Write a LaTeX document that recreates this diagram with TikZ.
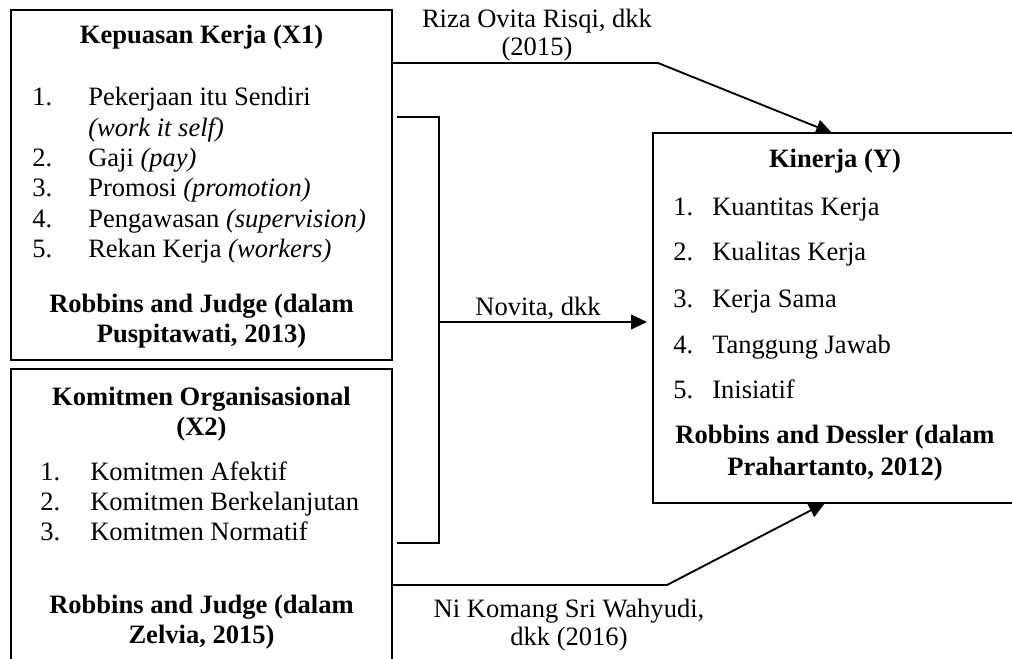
\documentclass[tikz,border=0pt]{standalone}
\usepackage{fontspec}
\setmainfont{Liberation Serif}
\usetikzlibrary{arrows.meta}

\tikzset{
  varbox/.style={draw, line width=1.4pt, inner sep=0pt, outer sep=0pt},
  txt/.style={inner sep=0pt, anchor=base west, font=\fontsize{19.9}{23}\selectfont},
  ctxt/.style={txt, anchor=base},
  head/.style={ctxt, font=\fontsize{19.9}{23}\selectfont\bfseries},
  link/.style={line width=1.4pt},
  arr/.style={link, -{Triangle[length=12pt, width=11pt]}}
}

\begin{document}
\begin{tikzpicture}[x=0.75pt, y=-0.75pt]
\useasboundingbox (0,0) rectangle (1012,659);
\clip (0,0) rectangle (1012,659);

% boxes
\node[varbox, minimum width=285.75pt, minimum height=262.5pt] (x1) at (201.5,185.0) {};
\node[varbox, minimum width=285.75pt, minimum height=248.25pt] (x2) at (201.5,534.5) {};
\node[varbox, minimum width=273.00pt, minimum height=277.5pt] (y1) at (835.0,318.0) {};

% Kepuasan Kerja (X1)
\node[head] (x1head) at (201.5,44) {Kepuasan Kerja (X1)};
\node[txt] (x1n1) at (32,106) {1.};
\node[txt] (x1t1) at (88,106) {Pekerjaan itu Sendiri};
\node[txt] (x1t1b) at (88,137) {\itshape (work it self)};
\node[txt] (x1n2) at (32,167) {2.};
\node[txt] (x1t2) at (88,167) {Gaji \textit{(pay)}};
\node[txt] (x1n3) at (32,197) {3.};
\node[txt] (x1t3) at (88,197) {Promosi \textit{(promotion)}};
\node[txt] (x1n4) at (32,227) {4.};
\node[txt] (x1t4) at (88,227) {Pengawasan \textit{(supervision)}};
\node[txt] (x1n5) at (32,257) {5.};
\node[txt] (x1t5) at (88,257) {Rekan Kerja \textit{(workers)}};
\node[head] (x1src) at (201.5,312) {Robbins and Judge (dalam};
\node[head] (x1srcb) at (201.5,342) {Puspitawati, 2013)};

% Komitmen Organisasional (X2)
\node[head] (x2head) at (201.5,405) {Komitmen Organisasional};
\node[head] (x2headb) at (201.5,435) {(X2)};
\node[txt] (x2n1) at (40,480) {1.};
\node[txt] (x2t1) at (90,480) {Komitmen Afektif};
\node[txt] (x2n2) at (40,510) {2.};
\node[txt] (x2t2) at (90,510) {Komitmen Berkelanjutan};
\node[txt] (x2n3) at (40,540) {3.};
\node[txt] (x2t3) at (90,540) {Komitmen Normatif};
\node[head] (x2src) at (201.5,613) {Robbins and Judge (dalam};
\node[head] (x2srcb) at (201.5,643) {Zelvia, 2015)};

% Kinerja (Y)
\node[head] (y1head) at (835,168) {Kinerja (Y)};
\node[txt] (y1n1) at (673,215) {1.};
\node[txt] (y1t1) at (712,215) {Kuantitas Kerja};
\node[txt] (y1n2) at (673,260) {2.};
\node[txt] (y1t2) at (712,260) {Kualitas Kerja};
\node[txt] (y1n3) at (673,307) {3.};
\node[txt] (y1t3) at (712,307) {Kerja Sama};
\node[txt] (y1n4) at (673,353) {4.};
\node[txt] (y1t4) at (712,353) {Tanggung Jawab};
\node[txt] (y1n5) at (673,398) {5.};
\node[txt] (y1t5) at (712,398) {Inisiatif};
\node[head] (y1src) at (835,443) {Robbins and Dessler (dalam};
\node[head] (y1srcb) at (835,475) {Prahartanto, 2012)};

% connector labels
\node[ctxt] (riza) at (537,28) {Riza Ovita Risqi, dkk};
\node[ctxt] (rizab) at (537,56) {(2015)};
\node[ctxt] (novita) at (538,315) {Novita, dkk};
\node[ctxt] (komang) at (569,617) {Ni Komang Sri Wahyudi,};
\node[ctxt] (komangb) at (569,645) {dkk (2016)};

% connectors
\coordinate (bendA) at (658,63);
\coordinate (tipA) at (832,133);
\draw[arr] (bendA -| x1.east) -- (bendA) -- (tipA);

\coordinate (brTop) at (439,117);
\coordinate (brBot) at (439,543);
\draw[link] (397,117) -- (brTop) -- (brBot) -- (397,543);
\coordinate (brMid) at (439,322);
\draw[arr, shorten >=4.5pt] (brMid) -- (brMid -| y1.west);

\coordinate (bendB) at (667,585);
\coordinate (tipB) at (825,503);
\draw[arr] (bendB -| x2.east) -- (bendB) -- (tipB);
\end{tikzpicture}
\end{document}
